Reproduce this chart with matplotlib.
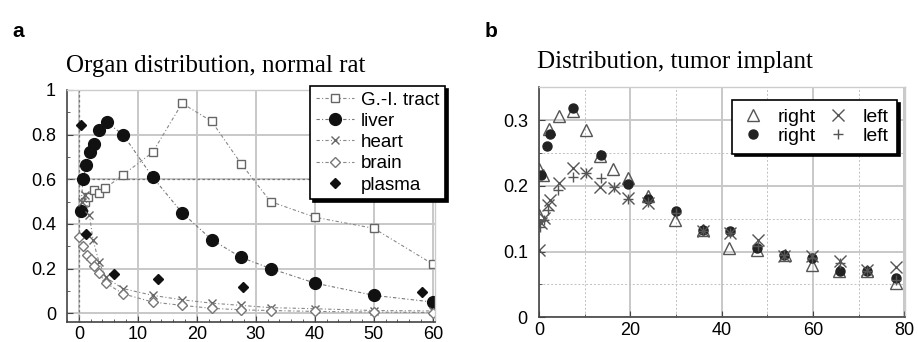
import numpy as np
import matplotlib
matplotlib.use("Agg")
import matplotlib.pyplot as plt
from matplotlib.ticker import MultipleLocator

plt.rcParams['font.family'] = ['Liberation Sans', 'DejaVu Sans']

# ---------------------------------------------------------
# Panel a: organ distribution, normal rat
# ---------------------------------------------------------
gi_x = [1, 1.5, 2.5, 3.5, 4.5, 7.5, 12.5, 17.5, 22.5, 27.5, 32.5, 40, 50, 60]
gi_y = [0.50, 0.52, 0.55, 0.54, 0.56, 0.62, 0.72, 0.94, 0.86, 0.67, 0.50, 0.43, 0.38, 0.22]

liver_x = [0.3, 0.7, 1.3, 1.9, 2.6, 3.5, 4.7, 7.5, 12.5, 17.5, 22.5, 27.5, 32.5, 40, 50, 60]
liver_y = [0.46, 0.60, 0.665, 0.72, 0.76, 0.82, 0.855, 0.80, 0.61, 0.45, 0.33, 0.25, 0.20, 0.135, 0.08, 0.05]

heart_x = [0.5, 1, 1.8, 2.4, 3.4, 4.6, 7.5, 12.5, 17.5, 22.5, 27.5, 32.5, 40, 50, 60]
heart_y = [0.50, 0.53, 0.44, 0.33, 0.23, 0.16, 0.11, 0.08, 0.06, 0.045, 0.035, 0.025, 0.02, 0.012, 0.01]

brain_x = [0.05, 0.7, 1.4, 2.0, 2.5, 3.4, 4.6, 7.5, 12.5, 17.5, 22.5, 27.5, 32.5, 40, 50, 60]
brain_y = [0.34, 0.30, 0.26, 0.245, 0.21, 0.18, 0.135, 0.087, 0.05, 0.035, 0.022, 0.015, 0.012, 0.008, 0.005, 0.003]

plasma_x = [0.45, 1.2, 6.0, 13.4, 27.8, 58.1]
plasma_y = [0.845, 0.355, 0.177, 0.155, 0.117, 0.094]

# ---------------------------------------------------------
# Panel b: distribution, tumor implant
# ---------------------------------------------------------
tri_x = [0, 0.07, 1, 2.3, 4.3, 7.5, 10.3, 13.3, 16.2, 19.5, 23.9, 29.9, 35.9, 41.7, 47.7, 53.8, 59.8, 65.7, 71.9, 78.1]
tri_y = [0.156, 0.225, 0.217, 0.287, 0.306, 0.314, 0.285, 0.245, 0.225, 0.212, 0.185, 0.148, 0.133, 0.105, 0.102, 0.095, 0.080, 0.071, 0.070, 0.052]

dot_x = [0.4, 1.8, 2.5, 7.5, 13.5, 19.5, 23.9, 30, 35.9, 41.8, 47.7, 53.7, 59.8, 65.9, 71.9, 78.1]
dot_y = [0.216, 0.261, 0.279, 0.319, 0.247, 0.203, 0.180, 0.161, 0.133, 0.131, 0.106, 0.095, 0.090, 0.070, 0.070, 0.060]

cross_x = [0.07, 0.4, 1.1, 2.0, 2.4, 4.3, 7.4, 10.3, 13.3, 16.4, 19.5, 23.9, 35.9, 41.8, 47.9, 53.7, 59.8, 65.9, 71.9, 78.2]
cross_y = [0.102, 0.143, 0.151, 0.171, 0.178, 0.205, 0.227, 0.219, 0.198, 0.197, 0.182, 0.174, 0.132, 0.128, 0.118, 0.094, 0.094, 0.085, 0.072, 0.077]

plus_x = [0.2, 1.1, 2.0, 4.2, 7.4, 10.3, 13.5, 16.4, 19.5, 23.9, 30, 35.9, 41.8, 47.9, 53.7, 59.8, 65.9, 71.9, 78.1]
plus_y = [0.138, 0.148, 0.164, 0.194, 0.214, 0.219, 0.212, 0.198, 0.180, 0.176, 0.158, 0.131, 0.128, 0.109, 0.095, 0.090, 0.082, 0.071, 0.057]

fig = plt.figure(figsize=(9.18, 3.42), dpi=100)

serif = ['Liberation Serif', 'DejaVu Serif']
dashdot = (0, (3, 2, 1, 2))


def style_axes(ax):
    for side in ['left', 'bottom']:
        ax.spines[side].set_color('#444444')
        ax.spines[side].set_linewidth(1.2)
    for side in ['top', 'right']:
        ax.spines[side].set_color('#cccccc')
        ax.spines[side].set_linewidth(1.0)
    ax.tick_params(which='both', direction='in', labelsize=13, color='#444444')
    ax.tick_params(which='major', length=4)
    ax.tick_params(axis='y', which='major', pad=8)
    ax.tick_params(axis='x', which='major', pad=3)
    ax.tick_params(which='minor', length=2)
    ax.grid(which='major', color='#c8c8c8', linewidth=1.4)
    ax.grid(which='minor', color='#c0c0c0', linewidth=0.7, linestyle=(0, (2, 2)))
    ax.set_axisbelow(True)


# ---- panel a
ax1 = fig.add_axes([0.073, 0.0594, 0.401, 0.6776])
style_axes(ax1)
ax1.axvline(0, color='#777777', lw=0.9, ls=(0, (2, 2)), zorder=1)
ax1.axhline(0.6, color='#777777', lw=0.9, ls=(0, (2, 2)), zorder=1)

ax1.plot(gi_x, gi_y, ls=dashdot, color='#888888', lw=0.8, marker='s', ms=6,
         mfc='white', mec='#666666', mew=1.0, label='G.-I. tract')
ax1.plot(liver_x, liver_y, ls=dashdot, color='#777777', lw=0.8, marker='o', ms=8.5,
         mfc='#111111', mec='#111111', label='liver')
ax1.plot(heart_x, heart_y, ls=dashdot, color='#888888', lw=0.8, marker='x', ms=6,
         mec='#666666', mew=1.0, label='heart')
ax1.plot(brain_x, brain_y, ls=dashdot, color='#888888', lw=0.8, marker='D', ms=5.5,
         mfc='white', mec='#777777', mew=1.0, label='brain')
ax1.plot(plasma_x, plasma_y, ls='none', marker='D', ms=5.5, mfc='#111111',
         mec='#111111', label='plasma')

ax1.set_xlim(-2, 60.4)
ax1.set_ylim(-0.038, 1.0)
ax1.xaxis.set_major_locator(MultipleLocator(10))
ax1.xaxis.set_minor_locator(MultipleLocator(2))
ax1.yaxis.set_major_locator(MultipleLocator(0.2))
ax1.yaxis.set_minor_locator(MultipleLocator(0.1))
ax1.grid(which='minor', visible=False)
ax1.set_yticks([0, 0.2, 0.4, 0.6, 0.8, 1.0])
ax1.set_yticklabels(['0', '0.2', '0.4', '0.6', '0.8', '1'])

leg1 = ax1.legend(loc='upper right', bbox_to_anchor=(1.027, 1.018), fontsize=13.5,
                  frameon=True, fancybox=False, shadow={'color': 'black', 'alpha': 1},
                  edgecolor='black', framealpha=1, borderpad=0.3, labelspacing=0.22,
                  handlelength=2.0, handletextpad=0.4, borderaxespad=0)
leg1.get_frame().set_linewidth(1.2)

fig.text(0.013, 0.935, 'a', fontsize=15, fontweight='bold', va='top')
fig.text(0.072, 0.79, 'Organ distribution, normal rat', fontsize=18, family=serif)

# ---- panel b
ax2 = fig.add_axes([0.587, 0.072, 0.399, 0.673])
style_axes(ax2)

ax2.plot(tri_x, tri_y, ls='none', marker='^', ms=8.5, mfc='none', mec='#555555',
         mew=1.0, label='right')
ax2.plot(dot_x, dot_y, ls='none', marker='o', ms=6.5, mfc='#222222', mec='#222222',
         label='right')
ax2.plot(cross_x, cross_y, ls='none', marker='x', ms=8, mec='#555555', mew=1.0,
         label='left')
ax2.plot(plus_x, plus_y, ls='none', marker='+', ms=6.5, mec='#555555', mew=1.0,
         label='left')

ax2.set_xlim(0, 80.2)
ax2.set_ylim(0, 0.35)
ax2.xaxis.set_major_locator(MultipleLocator(20))
ax2.xaxis.set_minor_locator(MultipleLocator(10))
ax2.yaxis.set_major_locator(MultipleLocator(0.1))
ax2.yaxis.set_minor_locator(MultipleLocator(0.05))
ax2.set_yticks([0, 0.1, 0.2, 0.3])
ax2.set_yticklabels(['0', '0.1', '0.2', '0.3'])

leg2 = ax2.legend(loc='upper right', bbox_to_anchor=(0.978, 0.945), ncol=2, fontsize=14,
                  frameon=True, fancybox=False, shadow={'color': 'black', 'alpha': 1},
                  edgecolor='black', framealpha=1, borderpad=0.45, labelspacing=0.05,
                  handlelength=1.3, handletextpad=0.6, columnspacing=0.5,
                  borderaxespad=0)
leg2.get_frame().set_linewidth(1.2)

fig.text(0.528, 0.935, 'b', fontsize=15, fontweight='bold', va='top')
fig.text(0.585, 0.80, 'Distribution, tumor implant', fontsize=18, family=serif)

fig.savefig('out.png', dpi=100)
